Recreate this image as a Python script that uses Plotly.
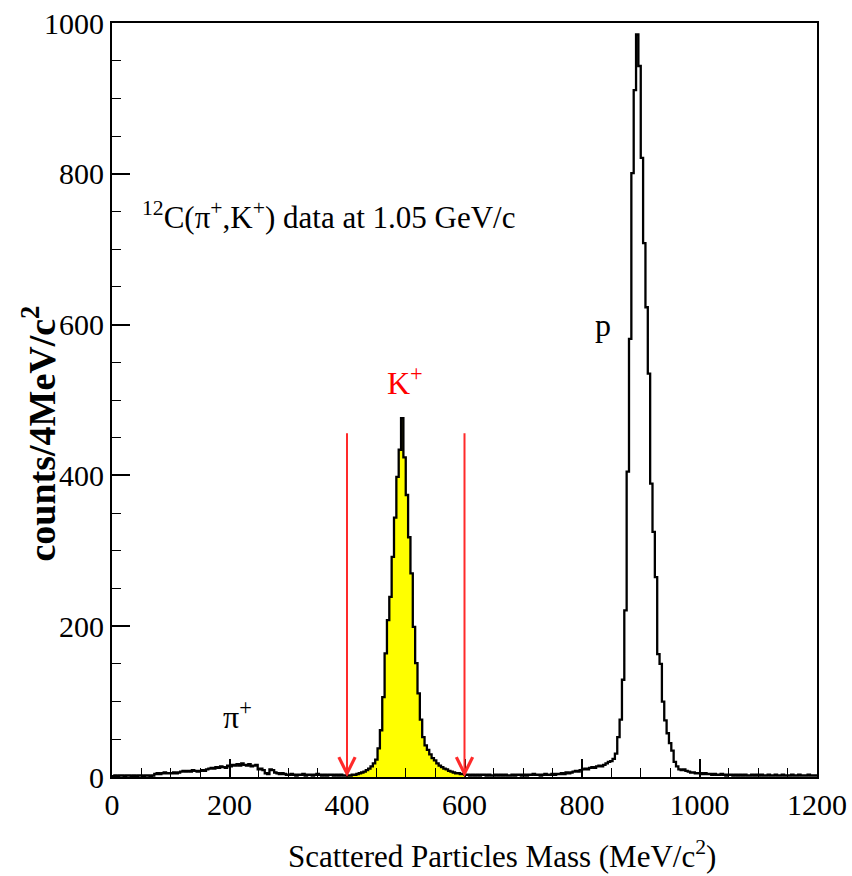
import numpy as np
import plotly.graph_objects as go

# ---- data: counts per 4 MeV/c^2 bin, 0..1200 MeV/c^2 (300 bins) ----
bin_width = 4
counts_000_100 = [1, 2, 1, 2, 2, 1, 2, 2, 1, 2, 1, 2, 2, 1, 2, 2, 1, 2, 4, 5, 4, 5, 6, 5, 5]
counts_100_200 = [5, 6, 5, 6, 7, 8, 7, 8, 7, 9, 8, 7, 8, 9, 8, 10, 11, 12, 11, 13, 12, 14, 13, 12, 15]
counts_200_300 = [14, 16, 15, 17, 15, 18, 16, 15, 17, 14, 15, 16, 10, 11, 9, 5, 4, 10, 9, 6, 5, 4, 5, 4, 3]
counts_300_400 = [3, 4, 3, 2, 3, 3, 4, 2, 3, 3, 2, 3, 4, 3, 2, 3, 2, 3, 3, 2, 3, 2, 3, 2, 2]
counts_400_500 = [2, 2, 3, 3, 4, 5, 6, 7, 9, 11, 14, 18, 23, 38, 62, 106, 164, 208, 239, 292,
                  344, 398, 434, 476, 424]
counts_500_600 = [374, 318, 270, 199, 151, 111, 76, 53, 42, 36, 30, 25, 22, 18, 15, 13, 11, 10, 8, 7,
                  6, 5, 5, 4, 4]
counts_600_700 = [3, 3, 2, 3, 2, 3, 2, 3, 3, 2, 3, 2, 2, 3, 2, 3, 2, 3, 2, 2, 3, 2, 3, 3, 2]
counts_700_800 = [3, 2, 3, 3, 4, 3, 3, 2, 3, 4, 3, 3, 4, 3, 4, 4, 5, 4, 6, 5, 6, 7, 8, 7, 9]
counts_800_900 = [10, 11, 10, 12, 13, 12, 14, 15, 14, 16, 18, 20, 21, 24, 31, 53, 76, 129, 221, 405,
                  581, 801, 911, 985, 943]
counts_900_1000 = [821, 708, 623, 535, 389, 325, 265, 163, 150, 100, 75, 58, 45, 35, 20, 14, 10, 9, 10, 8,
                   7, 6, 6, 5, 5]
counts_1000_1100 = [5, 4, 5, 4, 4, 3, 4, 3, 3, 4, 3, 2, 3, 3, 2, 3, 2, 3, 2, 3, 2, 2, 3, 2, 3]
counts_1100_1200 = [2, 3, 2, 2, 3, 2, 2, 3, 2, 2, 3, 2, 2, 2, 3, 2, 2, 3, 2, 2, 2, 3, 2, 2, 2]

counts = (counts_000_100 + counts_100_200 + counts_200_300 + counts_300_400 +
          counts_400_500 + counts_500_600 + counts_600_700 + counts_700_800 +
          counts_800_900 + counts_900_1000 + counts_1000_1100 + counts_1100_1200)

cut_low, cut_high = 400, 600       # K+ selection window (red arrows)
arrow_top = 458

x_ticks = [0, 200, 400, 600, 800, 1000, 1200]
y_ticks = [0, 200, 400, 600, 800, 1000]

edges = np.arange(0, len(counts) * bin_width + bin_width, bin_width)
y_step = counts + [counts[-1]]

# yellow filled K+ window
i0, i1 = cut_low // bin_width, cut_high // bin_width
fill_x = list(edges[i0:i1 + 1])
fill_y = counts[i0:i1] + [counts[i1 - 1]]

FONT = "Liberation Serif"

fig = go.Figure()
fig.add_trace(go.Scatter(x=fill_x, y=fill_y, mode="lines", line_shape="hv",
                         line=dict(width=0, color="yellow"), fill="tozeroy",
                         fillcolor="#ffff00", hoverinfo="skip"))
fig.add_trace(go.Scatter(x=edges, y=y_step, mode="lines", line_shape="hv",
                         line=dict(color="black", width=2.3)))

annotations = []
for xc in (cut_low, cut_high):
    annotations.append(dict(x=xc, y=0, ax=xc, ay=arrow_top, xref="x", yref="y",
                            axref="x", ayref="y", showarrow=True, arrowhead=5,
                            arrowsize=1.6, arrowwidth=2, arrowcolor="#ff2a2a", text=""))

annotations += [
    dict(x=48, y=745, xref="x", yref="y", xanchor="left", yanchor="middle", showarrow=False,
         text="<sup>12</sup>C(π<sup>+</sup>,K<sup>+</sup>) data at 1.05 GeV/c",
         font=dict(family=FONT, size=31, color="black")),
    dict(x=836, y=600, xref="x", yref="y", showarrow=False, text="p",
         font=dict(family=FONT, size=32, color="black")),
    dict(x=499, y=525, xref="x", yref="y", showarrow=False, text="K<sup>+</sup>",
         font=dict(family=FONT, size=32, color="red")),
    dict(x=214, y=82, xref="x", yref="y", showarrow=False, text="π<sup>+</sup>",
         font=dict(family=FONT, size=32, color="black")),
    dict(x=0.553, y=-0.103, xref="paper", yref="paper", xanchor="center", yanchor="middle",
         showarrow=False, text="Scattered Particles Mass (MeV/c<sup>2</sup>)",
         font=dict(family=FONT, size=31, color="black")),
    dict(x=-0.104, y=0.455, xref="paper", yref="paper", xanchor="center", yanchor="middle",
         showarrow=False, textangle=-90,
         text="<b>counts/4MeV/c<sup>2</sup></b>",
         font=dict(family=FONT, size=38, color="black")),
]

axis_common = dict(ticks="inside", ticklen=18, tickwidth=1.5, tickcolor="black",
                   showline=True, mirror=True, linecolor="black", linewidth=2,
                   showgrid=False, zeroline=False, automargin=False,
                   tickfont=dict(family=FONT, size=30, color="black"))

fig.update_layout(
    width=852, height=876,
    margin=dict(l=112, r=35, t=23, b=99),
    plot_bgcolor="white", paper_bgcolor="white",
    showlegend=False,
    annotations=annotations,
    xaxis=dict(range=[0, 1200], tickvals=x_ticks,
               minor=dict(dtick=50, tick0=0, ticklen=9, ticks="inside", tickcolor="black", tickwidth=1),
               **axis_common),
    yaxis=dict(range=[0, 1000], tickvals=y_ticks,
               minor=dict(dtick=50, tick0=0, ticklen=9, ticks="inside", tickcolor="black", tickwidth=1),
               **axis_common),
)

fig.write_html("out.html")
